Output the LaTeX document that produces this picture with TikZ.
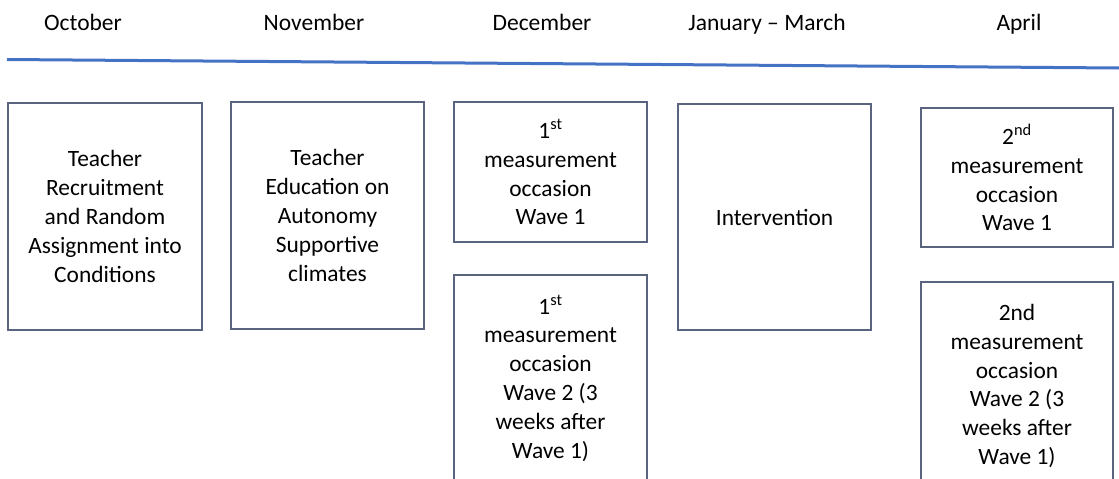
\documentclass[tikz,border=0pt]{standalone}
\usepackage{fontspec}
\setmainfont{Carlito}
\definecolor{tlblue}{RGB}{68,114,196}
\definecolor{bxline}{RGB}{90,100,125}
\begin{document}
\begin{tikzpicture}[x=1pt,y=-1pt,
  month/.style={font=\fontsize{23.5}{28.8}\selectfont, inner sep=0, anchor=base},
  box/.style={draw=bxline, line width=1.3pt, anchor=north west, inner sep=0, outer sep=0,
    align=center, font=\fontsize{23.4}{28.8}\selectfont}]
\useasboundingbox (0,0) rectangle (1119,479);
\clip (0,0) rectangle (1119,479);
% month labels
\node[month] (oct) at (83,30) {October};
\node[month] (nov) at (314,30) {November};
\node[month] (dec) at (542,30) {December};
\node[month] (jan) at (767,30) {January – March};
\node[month] (apr) at (1019,30) {April};
% timeline
\coordinate (tl0) at (7,59.5);
\coordinate (tl1) at (1119,68);
\draw[tlblue, line width=3pt] (tl0) -- (tl1);
% boxes
\node[box, minimum width=194, minimum height=227] (b1) at (8,103)
  {Teacher\\Recruitment\\and Random\\Assignment into\\Conditions};
\node[box, minimum width=193, minimum height=227] (b2) at (231,102)
  {Teacher\\Education on\\Autonomy\\Supportive\\climates};
\node[box, minimum width=193, minimum height=140] (b3a) at (454,102)
  {1\textsuperscript{st}\\measurement\\occasion\\Wave 1};
\node[box, minimum width=193, minimum height=206] (b3b) at (454,275)
  {1\textsuperscript{st}\\measurement\\occasion\\Wave 2 (3\\weeks after\\Wave 1)};
\node[box, minimum width=193, minimum height=226] (b4) at (678,104)
  {Intervention};
\node[box, minimum width=192, minimum height=139] (b5a) at (921,108)
  {2\textsuperscript{nd}\\measurement\\occasion\\Wave 1};
\node[box, minimum width=192, minimum height=208] (b5b) at (921,282)
  {2nd\\measurement\\occasion\\Wave 2 (3\\weeks after\\Wave 1)};
\end{tikzpicture}
\end{document}
